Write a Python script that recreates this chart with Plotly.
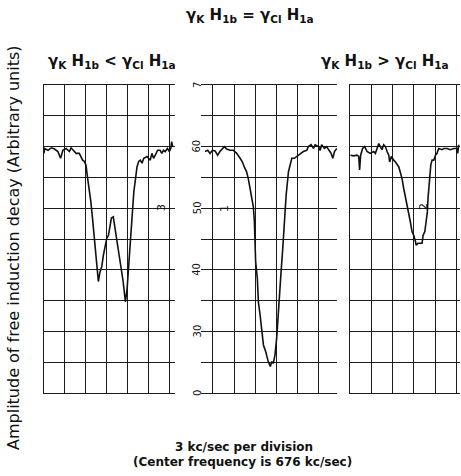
import plotly.graph_objects as go

# ---- data (x in chart divisions, y in recorder chart units) ----
x_left = [0.0, 0.03, 0.19, 0.35, 0.50, 0.66, 0.79, 0.90, 1.05, 1.21, 1.29, 1.42, 1.53, 1.68,
          1.76, 1.84, 1.92, 2.00, 2.08, 2.15, 2.23, 2.31, 2.39, 2.47, 2.55, 2.59, 2.67, 2.75,
          2.83, 2.91, 2.99, 3.07, 3.14, 3.21, 3.30, 3.36, 3.46, 3.57, 3.68, 3.77, 3.84, 3.88,
          3.96, 4.04, 4.12, 4.20, 4.28, 4.36, 4.43, 4.51, 4.59, 4.67, 4.75, 4.91, 5.06, 5.14,
          5.22, 5.30, 5.41, 5.53, 5.61, 5.69, 5.77, 5.88, 5.97, 6.04, 6.08, 6.13]
y_left = [58.9, 59.7, 59.4, 59.8, 59.6, 59.2, 58.1, 59.4, 59.7, 59.2, 59.8, 59.4, 58.9, 58.9,
          58.4, 57.8, 57.6, 57.0, 54.8, 53.2, 51.1, 48.4, 45.6, 42.4, 39.7, 38.1, 39.7, 40.5,
          42.4, 44.0, 45.1, 45.6, 47.3, 48.4, 48.6, 47.3, 45.1, 43.0, 40.8, 38.1, 35.9, 34.8,
          37.0, 41.3, 45.6, 49.4, 52.7, 54.8, 56.7, 57.6, 57.8, 57.3, 58.1, 58.4, 57.8, 58.9,
          58.1, 58.6, 59.4, 59.4, 58.9, 59.4, 59.2, 59.7, 59.2, 59.7, 60.8, 60.0]

x_mid = [-0.38, -0.25, -0.14, -0.03, 0.10, 0.22, 0.33, 0.44, 0.54, 0.65, 0.81, 0.97, 1.13,
         1.29, 1.40, 1.49, 1.60, 1.68, 1.76, 1.84, 1.92, 1.97, 2.00, 2.03, 2.11, 2.16, 2.24,
         2.32, 2.40, 2.51, 2.63, 2.73, 2.79, 2.87, 2.95, 3.03, 3.08, 3.14, 3.24, 3.32, 3.40,
         3.48, 3.59, 3.67, 3.75, 3.87, 3.98, 4.14, 4.30, 4.46, 4.54, 4.67, 4.78, 4.86, 5.02,
         5.10, 5.17, 5.30, 5.41, 5.52, 5.62, 5.70, 5.78, 5.89]
y_mid = [59.2, 59.4, 58.9, 59.4, 59.3, 58.6, 59.2, 59.6, 60.0, 59.6, 59.4, 59.4, 58.9,
         58.1, 57.5, 56.7, 55.9, 54.8, 53.2, 51.6, 50.2, 47.8, 45.1, 41.3, 38.6, 34.8, 32.7,
         30.0, 27.8, 26.7, 25.1, 24.3, 25.1, 24.8, 26.2, 28.9, 31.6, 35.9, 39.7, 43.5, 47.8,
         52.1, 55.9, 57.0, 58.1, 58.1, 58.4, 58.9, 59.2, 59.4, 60.0, 60.3, 59.7, 60.3, 60.0,
         59.4, 60.3, 59.7, 60.0, 59.4, 58.9, 58.1, 59.2, 59.7]

x_right = [0.02, 0.17, 0.33, 0.41, 0.45, 0.50, 0.59, 0.69, 0.80, 0.95, 1.11, 1.19, 1.27,
           1.35, 1.42, 1.50, 1.58, 1.66, 1.74, 1.82, 1.86, 1.94, 2.05, 2.13, 2.29, 2.36,
           2.44, 2.52, 2.60, 2.68, 2.75, 2.83, 2.91, 2.99, 3.07, 3.10, 3.19, 3.30, 3.38,
           3.43, 3.51, 3.57, 3.63, 3.66, 3.72, 3.79, 3.85, 3.93, 4.01, 4.08, 4.16, 4.32,
           4.40, 4.55, 4.71, 4.87, 5.02, 5.05, 5.10]
y_right = [58.6, 58.5, 58.6, 58.4, 56.2, 58.6, 59.7, 60.0, 59.2, 58.9, 59.2, 58.9, 59.7,
           60.5, 60.0, 59.5, 60.3, 60.0, 59.2, 58.6, 57.5, 58.4, 57.8, 57.5, 56.7, 55.9,
           54.8, 53.2, 51.9, 50.2, 48.9, 47.8, 46.2, 45.6, 44.6, 44.0, 44.3, 44.3, 44.3,
           45.6, 46.2, 47.8, 49.4, 51.6, 54.3, 57.0, 57.8, 57.8, 58.6, 58.9, 59.7, 59.5,
           59.7, 59.7, 59.5, 59.7, 59.7, 58.9, 60.3]

chart_scale_vals = [70, 60, 50, 40, 30, 20]
chart_scale_text = ["7", "60", "50", "40", "30", "0"]

W, H = 461, 476
def fx(px): return px / W
def fy(py): return 1 - py / H

fig = go.Figure()
line = dict(color="#111", width=1.6)
fig.add_trace(go.Scatter(x=x_left, y=y_left, mode="lines", line=line, xaxis="x", yaxis="y", showlegend=False))
fig.add_trace(go.Scatter(x=x_mid, y=y_mid, mode="lines", line=line, xaxis="x2", yaxis="y2", showlegend=False))
fig.add_trace(go.Scatter(x=x_right, y=y_right, mode="lines", line=line, xaxis="x3", yaxis="y3", showlegend=False))

gcol = "#1c1c1c"
ydom = [fy(393), fy(85)]
def xa(dom, rng):
    return dict(domain=dom, range=rng, showgrid=True, gridcolor=gcol, gridwidth=1.2,
                tick0=0, dtick=1, showticklabels=False, ticks="", zeroline=False,
                showline=True, mirror=True, linecolor=gcol, linewidth=1.3)
def ya(anchor, left_line):
    return dict(domain=ydom, range=[20, 70], anchor=anchor, showgrid=True, gridcolor=gcol,
                gridwidth=1.2, tick0=0, dtick=5, showticklabels=False, ticks="",
                zeroline=False, showline=left_line, linecolor=gcol, linewidth=1.3)

fig.update_layout(
    width=W, height=H, margin=dict(l=0, r=0, t=0, b=0),
    paper_bgcolor="white", plot_bgcolor="white",
    xaxis=xa([fx(44), fx(175)], [0, 6.24]) | dict(anchor="y"),
    xaxis2=xa([fx(201), fx(337)], [-0.57, 5.9]) | dict(anchor="y2"),
    xaxis3=xa([fx(350), fx(460)], [0, 5.16]) | dict(anchor="y3"),
    yaxis=ya("x", True),
    yaxis2=ya("x2", False),
    yaxis3=ya("x3", True),
)

def A(text, px, py, font, angle=0):
    return dict(text=text, x=fx(px), y=fy(py), xref="paper", yref="paper", showarrow=False,
                xanchor="center", yanchor="middle", textangle=angle, font=font)

tfont = dict(family="DejaVu Sans, sans-serif", size=15, color="#111", weight="bold")
ann = []
ann.append(A("γ<sub>K</sub> H<sub>1b</sub> = γ<sub>Cl</sub> H<sub>1a</sub>", 250, 16, tfont))
ann.append(A("γ<sub>K</sub> H<sub>1b</sub> < γ<sub>Cl</sub> H<sub>1a</sub>", 112, 62, tfont))
ann.append(A("γ<sub>K</sub> H<sub>1b</sub> > γ<sub>Cl</sub> H<sub>1a</sub>", 385, 62, tfont))
ann.append(A("Amplitude of free induction decay (Arbitrary units)", 13, 248,
             dict(family="DejaVu Sans, sans-serif", size=16, color="#111"), -90))
bfont = dict(family="DejaVu Sans, sans-serif", size=12, color="#111", weight="bold")
ann.append(A("3 kc/sec per division", 244, 447, bfont))
ann.append(A("(Center frequency is 676 kc/sec)", 242, 462, bfont))
sfont = dict(family="DejaVu Sans, sans-serif", size=10, color="#111")
for v, t in zip(chart_scale_vals, chart_scale_text):
    ann.append(dict(text=t, textangle=-90, x=fx(197), y=v, xref="paper", yref="y2",
                    xanchor="center", yanchor="middle", showarrow=False, font=sfont))
lfont = dict(family="DejaVu Sans, sans-serif", size=11, color="#111")
ann.append(A("3", 161, 208, lfont, -90))
ann.append(A("1", 224, 209, lfont, -90))
ann.append(A("2", 423, 207, lfont, -90))
fig.update_layout(annotations=ann)

fig.write_html("out.html", config={"displayModeBar": False},
               post_script="document.body.style.margin='0';")
